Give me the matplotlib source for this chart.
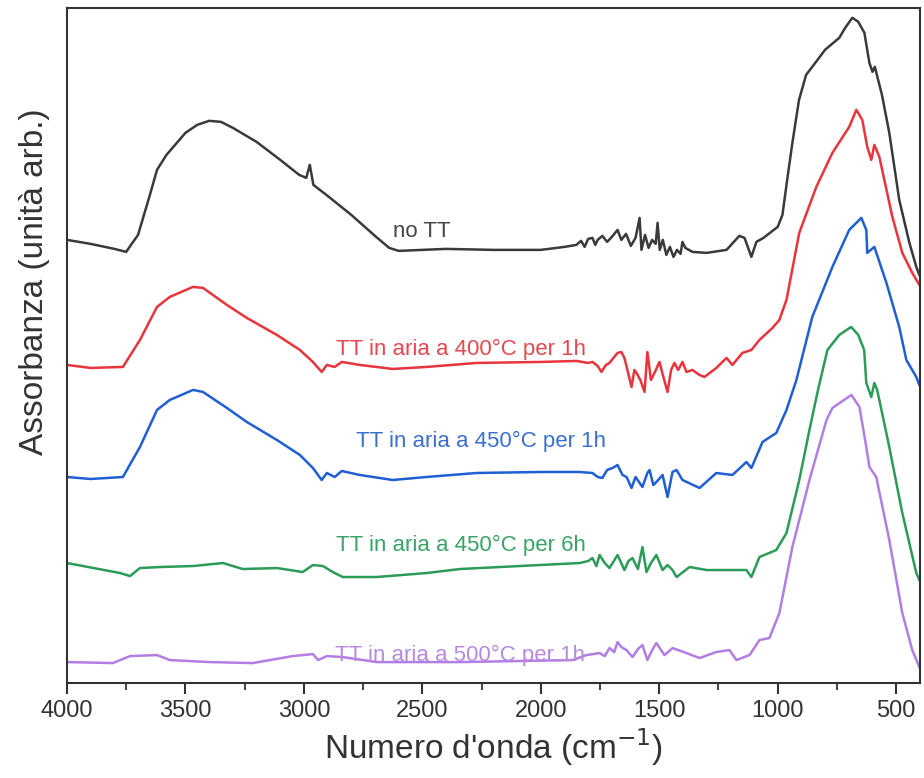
import numpy as np
import matplotlib.pyplot as plt

plt.rcParams['font.family'] = ['Liberation Sans', 'DejaVu Sans']

# wavenumber (cm-1) / absorbance (a.u., already offset)
wn_nott = [4000, 3900, 3800, 3750, 3730, 3700, 3650, 3620, 3580, 3500, 3450, 3400, 3350, 3300,
           3200, 3100, 3020, 2990, 2975, 2960, 2900, 2800, 2700, 2640, 2600, 2500, 2400, 2200,
           2000, 1900, 1850, 1830, 1815, 1800, 1782, 1770, 1760, 1740, 1720, 1700, 1676, 1660,
           1640, 1620, 1600, 1583, 1575, 1560, 1545, 1530, 1515, 1507, 1498, 1485, 1470, 1455,
           1440, 1425, 1410, 1402, 1390, 1360, 1300, 1216, 1162, 1140, 1111, 1090, 1060, 1000,
           980, 960, 938, 910, 880, 854, 800, 740, 715, 685, 660, 634, 613, 600, 590, 560, 529,
           487, 444, 415, 402]
ab_nott = [4.43, 4.39, 4.34, 4.31, 4.38, 4.48, 4.88, 5.13, 5.28, 5.50, 5.58, 5.62, 5.61, 5.55,
           5.41, 5.23, 5.08, 5.05, 5.18, 4.98, 4.87, 4.68, 4.47, 4.35, 4.32, 4.33, 4.34, 4.33,
           4.33, 4.36, 4.38, 4.42, 4.36, 4.44, 4.45, 4.38, 4.43, 4.47, 4.41, 4.46, 4.53, 4.43,
           4.49, 4.37, 4.45, 4.65, 4.33, 4.48, 4.35, 4.43, 4.39, 4.60, 4.33, 4.43, 4.28, 4.36,
           4.26, 4.33, 4.29, 4.41, 4.35, 4.31, 4.30, 4.33, 4.47, 4.45, 4.26, 4.41, 4.45, 4.56,
           4.68, 5.03, 5.40, 5.83, 6.08, 6.16, 6.33, 6.45, 6.55, 6.65, 6.61, 6.50, 6.20, 6.11,
           6.16, 5.88, 5.50, 4.83, 4.40, 4.16, 4.08]

wn_400 = [4000, 3900, 3764, 3692, 3620, 3566, 3468, 3426, 3325, 3241, 3114, 3017, 2962, 2925,
          2903, 2870, 2840, 2764, 2625, 2482, 2271, 2000, 1850, 1800, 1782, 1760, 1744, 1725,
          1710, 1690, 1676, 1660, 1647, 1617, 1605, 1596, 1580, 1562, 1550, 1535, 1520, 1499,
          1485, 1465, 1450, 1436, 1420, 1402, 1385, 1360, 1330, 1309, 1259, 1216, 1191, 1149,
          1111, 1077, 1022, 993, 963, 909, 837, 769, 698, 668, 643, 622, 605, 592, 571, 516,
          474, 432, 402]
ab_400 = [3.18, 3.15, 3.16, 3.43, 3.76, 3.86, 3.96, 3.95, 3.78, 3.65, 3.48, 3.33, 3.21, 3.11,
          3.18, 3.16, 3.21, 3.18, 3.14, 3.16, 3.20, 3.21, 3.22, 3.20, 3.21, 3.17, 3.11, 3.18,
          3.20, 3.26, 3.30, 3.31, 3.25, 2.96, 3.13, 3.10, 3.03, 2.91, 3.31, 3.03, 3.10, 3.21,
          3.08, 2.91, 3.13, 3.20, 3.13, 3.21, 3.11, 3.13, 3.08, 3.06, 3.15, 3.25, 3.18, 3.30,
          3.33, 3.43, 3.55, 3.63, 3.83, 4.50, 4.96, 5.30, 5.56, 5.73, 5.63, 5.36, 5.23, 5.38,
          5.26, 4.66, 4.30, 4.10, 3.98]

wn_450 = [4000, 3900, 3764, 3692, 3620, 3566, 3468, 3426, 3325, 3241, 3114, 3017, 2962, 2925,
          2903, 2870, 2840, 2764, 2625, 2482, 2271, 2000, 1836, 1782, 1760, 1740, 1720, 1697,
          1676, 1655, 1638, 1617, 1600, 1571, 1550, 1541, 1525, 1512, 1486, 1465, 1444, 1427,
          1402, 1330, 1259, 1191, 1132, 1111, 1064, 1006, 963, 921, 854, 769, 698, 647, 626,
          622, 592, 541, 487, 457, 415, 402]
ab_450 = [2.06, 2.04, 2.06, 2.36, 2.73, 2.83, 2.93, 2.91, 2.75, 2.61, 2.43, 2.28, 2.15, 2.03,
          2.10, 2.06, 2.12, 2.08, 2.03, 2.06, 2.10, 2.11, 2.11, 2.10, 2.06, 2.05, 2.13, 2.15,
          2.18, 2.08, 2.06, 1.95, 2.06, 1.96, 2.10, 2.13, 1.98, 2.01, 2.08, 1.86, 2.11, 2.13,
          2.03, 1.95, 2.10, 2.08, 2.21, 2.15, 2.41, 2.50, 2.73, 3.03, 3.66, 4.16, 4.53, 4.65,
          4.53, 4.30, 4.36, 4.00, 3.56, 3.23, 3.06, 2.98]

wn_450_6h = [4000, 3776, 3734, 3692, 3608, 3468, 3342, 3258, 3114, 3005, 2962, 2920, 2878,
             2836, 2693, 2482, 2342, 1836, 1800, 1782, 1765, 1752, 1730, 1710, 1676, 1647,
             1630, 1613, 1590, 1571, 1554, 1535, 1512, 1486, 1465, 1444, 1427, 1372, 1300,
             1132, 1111, 1077, 1006, 963, 909, 866, 830, 790, 740, 690, 660, 635, 626, 605,
             592, 580, 529, 474, 415, 402]
ab_450_6h = [1.20, 1.10, 1.07, 1.15, 1.16, 1.17, 1.20, 1.14, 1.15, 1.11, 1.18, 1.17, 1.11,
             1.06, 1.06, 1.10, 1.14, 1.20, 1.22, 1.25, 1.17, 1.28, 1.20, 1.15, 1.28, 1.13,
             1.22, 1.25, 1.14, 1.36, 1.11, 1.20, 1.28, 1.13, 1.18, 1.13, 1.06, 1.16, 1.13,
             1.13, 1.06, 1.26, 1.33, 1.50, 2.03, 2.53, 2.93, 3.33, 3.48, 3.56, 3.48, 3.33,
             3.00, 2.86, 3.00, 2.93, 2.36, 1.70, 1.10, 1.03]

wn_500 = [4000, 3806, 3734, 3620, 3566, 3397, 3216, 3047, 2962, 2940, 2903, 2836, 2693, 2342,
          1866, 1807, 1752, 1730, 1710, 1690, 1676, 1660, 1638, 1613, 1590, 1571, 1550, 1530,
          1512, 1478, 1444, 1385, 1330, 1260, 1204, 1174, 1119, 1077, 1035, 993, 938, 866,
          794, 769, 689, 655, 626, 613, 584, 529, 474, 432, 402]
ab_500 = [0.21, 0.20, 0.27, 0.28, 0.23, 0.21, 0.20, 0.27, 0.29, 0.23, 0.27, 0.26, 0.21, 0.21,
          0.23, 0.28, 0.30, 0.27, 0.35, 0.31, 0.41, 0.36, 0.33, 0.26, 0.34, 0.38, 0.23, 0.33,
          0.40, 0.28, 0.35, 0.30, 0.25, 0.31, 0.33, 0.23, 0.28, 0.43, 0.45, 0.70, 1.36, 2.03,
          2.63, 2.75, 2.88, 2.76, 2.36, 2.16, 2.06, 1.43, 0.70, 0.33, 0.16]

names = ['no TT', 'TT in aria a 400°C per 1h', 'TT in aria a 450°C per 1h',
         'TT in aria a 450°C per 6h', 'TT in aria a 500°C per 1h']
line_colors = ['#3a3a3a', '#e8343c', '#1f5fd4', '#2b9b58', '#b27ee3']
text_colors = ['#454545', '#e5484e', '#3b6fd0', '#3aa366', '#b78ae0']
label_x = [2503, 2338, 2254, 2338, 2342]
label_y = [4.51, 3.33, 2.42, 1.38, 0.28]

fig = plt.figure(figsize=(9.24, 7.78), dpi=100)
ax = fig.add_axes([0.0725, 0.122, 0.923, 0.868])

traces = [(wn_nott, ab_nott), (wn_400, ab_400), (wn_450, ab_450),
          (wn_450_6h, ab_450_6h), (wn_500, ab_500)]
for (wn, ab), c in zip(traces, line_colors):
    ax.plot(wn, ab, color=c, lw=1.8)

for name, x, y, c in zip(names, label_x, label_y, text_colors):
    ax.text(x, y, name, color=c, fontsize=16, ha='center', va='center')

ax.set_xlim(4000, 400)
ax.set_ylim(0, 6.75)
ax.set_xticks([4000, 3500, 3000, 2500, 2000, 1500, 1000, 500])
ax.set_xticks(np.arange(3750, 400, -500), minor=True)
ax.set_yticks([])
ax.tick_params(axis='x', which='major', direction='out', length=8, width=1.5,
               labelsize=17, colors='#333333', pad=4)
ax.tick_params(axis='x', which='minor', direction='out', length=5, width=1.3,
               colors='#333333')
for s in ax.spines.values():
    s.set_color('#333333')
    s.set_linewidth(1.5)

ax.set_xlabel("Numero d'onda (cm$^{-1}$)", fontsize=24, color='#333333')
ax.xaxis.set_label_coords(0.5, -0.064)
ax.set_ylabel('Assorbanza (unità arb.)', fontsize=24, color='#333333')
ax.yaxis.set_label_coords(-0.02, 0.594)

fig.savefig('out.png', dpi=100)
